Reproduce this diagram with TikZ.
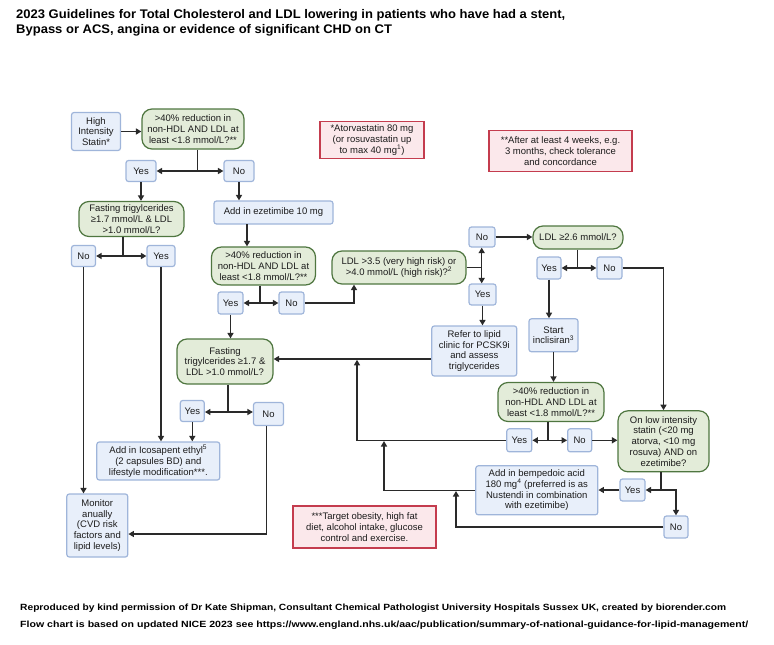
\documentclass[tikz,border=0pt]{standalone}
\usepackage{fontspec}
\setmainfont{Liberation Sans}
\usepackage{graphicx}
\usetikzlibrary{arrows.meta,calc}
\definecolor{bfill}{HTML}{E8EFFA}
\definecolor{bdraw}{HTML}{9FB5DA}
\definecolor{gfill}{HTML}{E3ECD9}
\definecolor{gdraw}{HTML}{4F7640}
\definecolor{rfill}{HTML}{FBE8EB}
\definecolor{rdraw}{HTML}{C43C4E}
\definecolor{lc}{HTML}{2A2A2A}
\definecolor{tc}{HTML}{1C1C1C}
\begin{document}
\begin{tikzpicture}[x=1pt,y=-1pt,
  every node/.style={font=\fontsize{9.5}{10.8}\selectfont, text=tc, align=center, inner sep=0pt},
  bbox/.style={draw=bdraw, fill=bfill, line width=1.2pt, rounded corners=2.5pt},
  gbox/.style={draw=gdraw, fill=gfill, line width=1.2pt, rounded corners=10pt},
  rbox/.style={draw=rdraw, fill=rfill, line width=1.2pt},
  sz/.style 2 args={minimum width=#1pt, minimum height=#2pt},
  ln/.style={draw=lc, line width=1.5pt},
  arr/.style={ln, -{Triangle[length=5.5pt,width=6pt]}}]

\useasboundingbox (0,0) rectangle (774,645);

% title and footer
\node[anchor=base west, font=\bfseries\fontsize{12.5}{14.8}\selectfont, text=black] (title) at (16,18.7)
  {\resizebox{549pt}{\height}{\begin{tabular}[t]{@{}l@{}}2023 Guidelines for Total Cholesterol and LDL lowering in patients who have had a stent,\\Bypass or ACS, angina or evidence of  significant CHD on CT\end{tabular}}};
\node[anchor=base west, font=\bfseries\fontsize{9}{11}\selectfont, text=black] (foot1) at (20,610)
  {\resizebox{706pt}{\height}{Reproduced by kind permission of Dr Kate Shipman, Consultant Chemical Pathologist University Hospitals Sussex UK, created by biorender.com}};
\node[anchor=base west, font=\bfseries\fontsize{9}{11}\selectfont, text=black] (foot2) at (20,627)
  {\resizebox{728pt}{\height}{Flow chart is based on updated NICE 2023 see https://www.england.nhs.uk/aac/publication/summary-of-national-guidance-for-lipid-management/}};

% nodes
\node[bbox,sz={49}{38}] (statin) at (96,131.5) {High\\Intensity\\Statin*};
\node[gbox,sz={102}{40}] (q1) at (193,129) {>40\% reduction in\\non-HDL AND LDL at\\least <1.8 mmol/L?**};
\node[bbox,sz={30}{21}] (yes1) at (141,171) {Yes};
\node[bbox,sz={30}{21}] (no1) at (239,171) {No};
\node[gbox,sz={105}{35}] (fast1) at (131.5,219) {Fasting trigylcerides\\≥1.7 mmol/L \& LDL\\>1.0 mmol/L?};
\node[bbox,sz={119}{23}] (eze) at (273.5,212.5) {Add in ezetimibe 10 mg};
\node[bbox,sz={24}{21}] (no2) at (83.5,256) {No};
\node[bbox,sz={28}{21}] (yes2) at (161,256) {Yes};
\node[gbox,sz={104}{38}] (q2) at (263.5,266) {>40\% reduction in\\non-HDL AND LDL at\\least <1.8 mmol/L?**};
\node[bbox,sz={25}{22}] (yes3) at (230.5,303) {Yes};
\node[bbox,sz={25}{22}] (no3) at (291.5,303) {No};
\node[gbox,sz={134}{33}] (ldl35) at (399,267.5) {LDL >3.5 (very high risk) or\\>4.0 mmol/L (high risk)?\textsuperscript{2}};
\node[bbox,sz={26}{20}] (no4) at (482,237) {No};
\node[bbox,sz={27}{21}] (yes4) at (482.5,294.5) {Yes};
\node[gbox,sz={90}{23}] (ldl26) at (578,237.5) {LDL ≥2.6 mmol/L?};
\node[bbox,sz={24}{22}] (yes5) at (549,268) {Yes};
\node[bbox,sz={25}{22}] (no5) at (609.5,268) {No};
\node[bbox,sz={85}{50}] (refer) at (474.3,351) {Refer to lipid\\clinic for PCSK9i\\and assess\\triglycerides};
\node[bbox,sz={49}{33}] (incl) at (553.5,335.3) {Start\\inclisiran\textsuperscript{3}};
\node[gbox,sz={96}{45}] (fast2) at (225,361.5) {Fasting\\trigylcerides ≥1.7 \&\\LDL >1.0 mmol/L?};
\node[gbox,sz={106}{39}] (q3) at (551,402) {>40\% reduction in\\non-HDL AND LDL at\\least <1.8 mmol/L?**};
\node[bbox,sz={24}{21}] (yes6) at (192.3,411) {Yes};
\node[bbox,sz={30}{23}] (no6) at (268.5,414) {No};
\node[bbox,sz={25}{23}] (yes7) at (519.3,440.3) {Yes};
\node[bbox,sz={24}{23}] (no7) at (579.7,440.3) {No};
\node[gbox,sz={91}{61}] (onlow) at (663.5,441.3) {On low intensity\\statin (<20 mg\\atorva, <10 mg\\rosuva) AND on\\ezetimibe?};
\node[bbox,sz={123}{38}] (ico) at (158.3,461) {Add in Icosapent ethyl\textsuperscript{5}\\(2 capsules BD) and\\lifestyle modification***.};
\node[bbox,sz={61}{63}] (mon) at (97.3,525.5) {Monitor\\anually\\(CVD risk\\factors and\\lipid levels)};
\node[bbox,sz={122}{49}] (bemp) at (536.8,490.3) {Add in bempedoic acid\\180 mg\textsuperscript{4} (preferred is as\\Nustendi in combination\\with ezetimibe)};
\node[bbox,sz={25}{22}] (yes8) at (632.5,490) {Yes};
\node[bbox,sz={24}{22}] (no8) at (676,527) {No};
\node[rbox,sz={104}{37}] (note1) at (372,140.3) {*Atorvastatin 80 mg\\(or rosuvastatin up\\to max 40 mg\textsuperscript{1})};
\node[rbox,sz={143}{41}] (note2) at (560.5,151.2) {**After at least 4 weeks, e.g.\\3 months, check tolerance\\and concordance};
\node[rbox,sz={143}{42}] (note3) at (364.5,527) {***Target obesity, high fat\\diet, alcohol intake, glucose\\control and exercise.};

% connectors
\draw[arr] (statin.east) -- (statin.east -| q1.west);

\coordinate (j1) at (197.5,171);
\draw[ln] (q1.south -| j1) -- (j1);
\draw[arr] (j1) -- (j1 -| yes1.east);
\draw[arr] (j1) -- (j1 -| no1.west);
\draw[arr] (yes1.south) -- (yes1.south |- fast1.north);
\draw[arr] (no1.south) -- (no1.south |- eze.north);

\coordinate (j2) at (123,256);
\draw[ln] (fast1.south -| j2) -- (j2);
\draw[arr] (j2) -- (j2 -| no2.east);
\draw[arr] (j2) -- (j2 -| yes2.west);

\coordinate (e1) at (247,224);
\draw[arr] (e1) -- (e1 |- q2.north);

\draw[arr] (no2.south) -- (no2.south |- mon.north);
\draw[arr] (yes2.south) -- (yes2.south |- ico.north);

\coordinate (j3) at (260,303);
\draw[ln] (q2.south -| j3) -- (j3);
\draw[arr] (j3) -- (j3 -| yes3.east);
\draw[arr] (j3) -- (j3 -| no3.west);
\draw[arr] (yes3.south) -- (yes3.south |- fast2.north);

\coordinate (c1) at (354,303);
\draw[arr] (no3.east) -- (c1) -- (c1 |- ldl35.south);

\coordinate (j4) at (481.7,267.5);
\draw[ln] (ldl35.east) -- (j4);
\draw[arr] (j4) -- (j4 |- no4.south);
\draw[arr] (j4) -- (j4 |- yes4.north);
\draw[arr] (no4.east) -- (no4.east -| ldl26.west);

\coordinate (j5) at (577.7,268);
\draw[ln] (ldl26.south -| j5) -- (j5);
\draw[arr] (j5) -- (j5 -| yes5.east);
\draw[arr] (j5) -- (j5 -| no5.west);

\draw[arr] (yes4.south) -- (yes4.south |- refer.north);
\coordinate (r1) at (432,359);
\draw[arr] (refer.west |- r1) -- (r1 -| fast2.east);
\draw[arr] (yes5.south) -- (yes5.south |- incl.north);
\draw[arr] (incl.south) -- (incl.south |- q3.north);
\draw[arr] (no5.east) -| (onlow.north);

\coordinate (j6) at (548,440.3);
\draw[ln] (q3.south -| j6) -- (j6);
\draw[arr] (j6) -- (j6 -| yes7.east);
\draw[arr] (j6) -- (j6 -| no7.west);
\draw[arr] (no7.east) -- (no7.east -| onlow.west);

\coordinate (c2) at (357,359.8);
\draw[arr] (yes7.west) -| (c2);
\coordinate (c3) at (384,441);
\draw[arr] (bemp.west) -| (c3);

\coordinate (j7) at (661,490);
\draw[ln] (onlow.south -| j7) -- (j7);
\draw[arr] (j7) -- (j7 -| yes8.east);
\draw[arr] (j7) -| (no8.north);
\draw[arr] (yes8.west) -- (yes8.west -| bemp.east);
\coordinate (c4) at (456,491);
\draw[arr] (no8.west) -| (c4);

\coordinate (j8) at (228,412);
\draw[ln] (fast2.south -| j8) -- (j8);
\draw[arr] (j8) -- (j8 -| yes6.east);
\draw[arr] (j8) -- (j8 -| no6.west);
\draw[arr] (yes6.south) -- (yes6.south |- ico.north);

\coordinate (c5) at (266.7,534);
\draw[arr] (no6.south -| c5) -- (c5) -- (c5 -| mon.east);
\end{tikzpicture}
\end{document}
